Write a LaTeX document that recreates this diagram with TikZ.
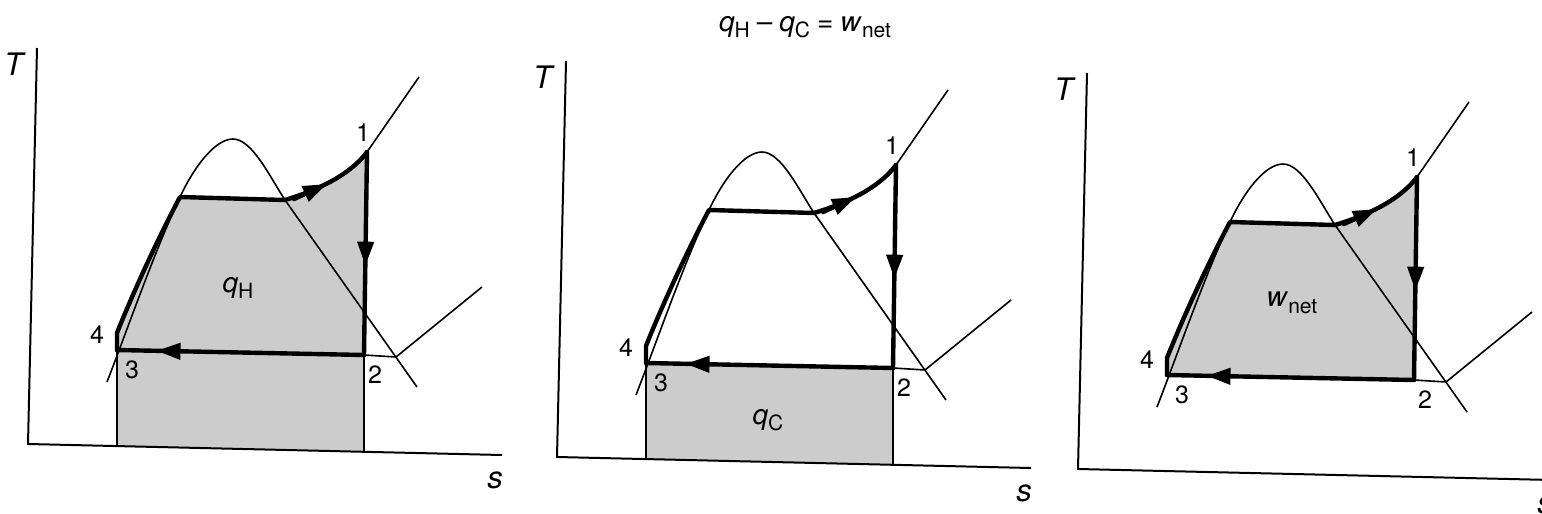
\documentclass[tikz,border=0pt]{standalone}
\usepackage{fontspec}
\setmainfont{TeX Gyre Heros}
\usetikzlibrary{arrows.meta,decorations.markings}
\newcommand\sbs[1]{\raisebox{-0.45ex}{\fontsize{10.5}{11}\selectfont #1}}
\tikzset{
  tline/.style={line width=0.8pt},
  cyc/.style={line width=2.2pt, line join=round, line cap=round},
  ax/.style={line width=1pt},
  shadefill/.style={fill=black!20},
  lbl/.style={font=\fontsize{12.5}{14}\selectfont, inner sep=0pt},
  axlbl/.style={font=\fontsize{15.5}{17}\selectfont, inner sep=0pt},
  arealbl/.style={font=\fontsize{14}{16}\selectfont, inner sep=0pt},
  tip/.style={-{Triangle[length=12pt,width=8pt]}},
  midarrow/.style={postaction={decorate}, decoration={markings,
      mark=at position #1 with {\arrow{Triangle[length=12pt,width=8pt]}}}},
}
% #1,#2 shift; #3 mode: 0 = q_H, 1 = q_C, 2 = w_net
\newcommand\drawpanel[3]{%
\begin{scope}[shift={(#1,#2)}]
  \coordinate (org) at (28,444);
  \coordinate (tax) at (37,48);
  \coordinate (sax) at (502,455);
  \coordinate (p1) at (367,152);
  \coordinate (p2) at (364,355);
  \coordinate (p3) at (117,350);
  \coordinate (p4) at (117,333);
  \coordinate (pf) at (180,197);
  \coordinate (pg) at (285,200);
  \coordinate (pk) at (233,139);
  \coordinate (sh) at (419,77);
  \coordinate (dr) at (417,387);
  \coordinate (jn) at (396,357);
  \coordinate (iso) at (482,287);
  \coordinate (lb) at (107,382);
  \coordinate (b3) at (117,446);
  \coordinate (b2) at (364,452);
  \coordinate (ha) at (294,199);
  \coordinate (hb) at (327,184);
  \ifcase#3
    \fill[shadefill] (b3) -- (p3) -- (p4) .. controls (128,305) and (152,250) .. (pf) -- (pg)
      .. controls (318,190) and (350,175) .. (p1) -- (p2) -- (b2) -- cycle;
  \or
    \fill[shadefill] (b3) -- (p3) -- (p2) -- (b2) -- cycle;
  \or
    \fill[shadefill] (p3) -- (p4) .. controls (128,305) and (152,250) .. (pf) -- (pg)
      .. controls (318,190) and (350,175) .. (p1) -- (p2) -- cycle;
  \fi
  \ifnum#3<2 \draw[tline] (b3) -- (p3) (b2) -- (p2);\fi
  % saturation dome and lines
  \draw[tline] (lb) .. controls (128,328) and (153,255) .. (pf);
  \draw[tline] (pf) .. controls (194,167) and (215,139) .. (pk)
     .. controls (252,139) and (270,177) .. (pg) -- (dr);
  \draw[tline] (pg) .. controls (318,190) and (350,175) .. (p1) -- (sh);
  \draw[tline] (p2) -- (jn) -- (iso);
  % cycle
  \draw[cyc] (pg) .. controls (318,190) and (350,175) .. (p1);
  \draw[cyc, tip] (ha) -- (hb);
  \draw[cyc] (p3) -- (p4) .. controls (128,305) and (152,250) .. (pf) -- (pg);
  \draw[cyc, midarrow=0.56] (p1) -- (p2);
  \draw[cyc, midarrow=0.84] (p2) -- (p3);
  % axes
  \draw[ax] (tax) -- (org) -- (sax);
  \node[axlbl] (lT#3) at (15,64) {\textit{T}};
  \node[axlbl] (ls#3) at (495,480) {\textit{s}};
  \node[lbl] (l1#3) at (363,133) {1};
  \node[lbl] (l2#3) at (375,375) {2};
  \node[lbl] (l3#3) at (132,370) {3};
  \node[lbl] (l4#3) at (97,335) {4};
\end{scope}}
\begin{document}
\begin{tikzpicture}[x=0.5pt,y=-0.5pt]
  \useasboundingbox (0,0) rectangle (1542,514);
  \fill[white] (0,0) rectangle (1542,514);
  \drawpanel{0}{0}{0}
  \drawpanel{529}{13}{1}
  \drawpanel{1050}{25}{2}
  \node[arealbl] (qH) at (238,288) {\textit{q}\sbs{H}};
  \node[arealbl] (qC) at (768,420) {\textit{q}\sbs{C}};
  \node[arealbl] (wn) at (1292,303) {\textit{w}\sbs{net}};
  \node[arealbl] (title) at (805,27) {\textit{q}\sbs{H}\hspace{3.5pt}–\hspace{3.5pt}\textit{q}\sbs{C}\hspace{3.5pt}=\hspace{3.5pt}\textit{w}\sbs{net}};
\end{tikzpicture}
\end{document}
